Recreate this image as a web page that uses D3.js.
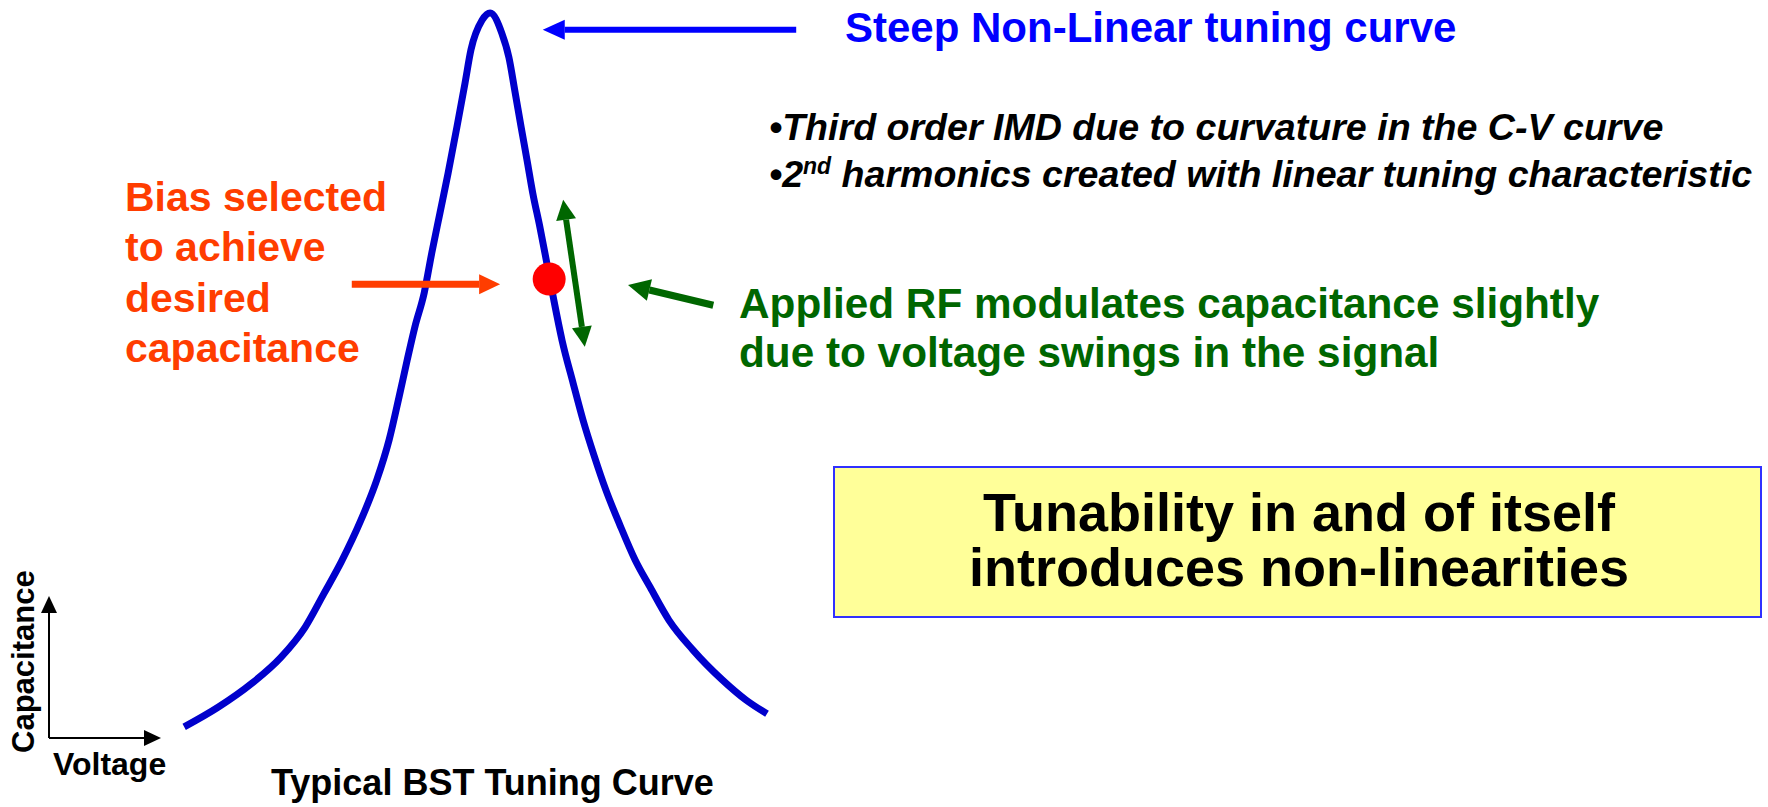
<!DOCTYPE html>
<html>
<head>
<meta charset="utf-8">
<script src="https://cdn.jsdelivr.net/npm/d3@7"></script>
<style>
  html, body { margin: 0; padding: 0; background: #fff; }
  svg text { font-family: "Liberation Sans", Arial, sans-serif; font-weight: bold; }
</style>
</head>
<body>
<div id="chart"></div>
<script>
// tuning curve (voltage in arbitrary units, capacitance in arbitrary units)
const voltage = [-4.98, -4.40, -3.82, -3.32, -2.91, -2.59, -2.29, -1.95, -1.68, -1.47, -1.30, -1.16,
  -1.03, -0.87, -0.74, -0.60, -0.46, -0.31, -0.17, -0.07, 0.12, 0.26,
  0.46, 0.58, 0.68, 0.79, 0.89, 0.99, 1.11, 1.23, 1.35, 1.49, 1.68, 1.85, 2.04, 2.24, 2.48, 2.74,
  3.00, 3.32, 3.73, 4.23, 4.64, 5.00];
const capacitance = [0.18, 0.45, 0.78, 1.14, 1.55, 2.01, 2.45, 3.03, 3.58, 4.13, 4.72, 5.23,
  5.68, 6.15, 6.70, 7.25, 7.80, 8.43, 9.04, 9.49, 9.90, 10.0,
  9.72, 9.39, 8.94, 8.43, 7.98, 7.52, 7.06, 6.56, 6.05, 5.50, 4.91, 4.40, 3.91, 3.44, 2.96, 2.48,
  2.10, 1.65, 1.24, 0.83, 0.55, 0.36];

// operating (bias) point
const biasPoint = { v: 1.27, c: 6.34 };

// annotation arrows, in data units
const peakArrow = { from: [5.50, 9.77], to: [1.16, 9.77] };
const biasArrow = { from: [-2.11, 6.27], to: [0.43, 6.27] };
const swingArrow = { from: [1.51, 7.43], to: [1.88, 5.41] };
const rfArrow = { from: [4.08, 5.98], to: [2.62, 6.26] };

const titleText = "Steep Non-Linear tuning curve";
const bulletLines = ["\u2022Third order IMD due to curvature in the C-V curve",
  " harmonics created with linear tuning characteristic"];
const biasLines = ["Bias selected", "to achieve", "desired", "capacitance"];
const rfLines = ["Applied RF modulates capacitance slightly", "due to voltage swings in the signal"];
const boxLines = ["Tunability in and of itself", "introduces non-linearities"];
const axisLabels = { x: "Voltage", y: "Capacitance" };
const caption = "Typical BST Tuning Curve";

const width = 1768, height = 807;
const colors = {
  curve: "#0000cc",
  blue: "#0000ff",
  orange: "#ff3d00",
  green: "#006600",
  dot: "#ff0000",
  box: "#ffff99",
  boxBorder: "#3030ff"
};

const svg = d3.select("#chart").append("svg")
  .attr("width", width)
  .attr("height", height);

const x = d3.scaleLinear().domain([-5, 5]).range([183, 767]);
const y = d3.scaleLinear().domain([0, 10]).range([740, 13]);

// draw an arrow (shaft + filled triangular head), optionally double headed
function arrow(p1, p2, color, sw, hl, hw, both) {
  const x1 = x(p1[0]), y1 = y(p1[1]), x2 = x(p2[0]), y2 = y(p2[1]);
  const len = Math.hypot(x2 - x1, y2 - y1);
  const ux = (x2 - x1) / len, uy = (y2 - y1) / len;
  const g = svg.append("g");
  const sx = both ? x1 + ux * hl : x1, sy = both ? y1 + uy * hl : y1;
  g.append("line")
    .attr("x1", sx).attr("y1", sy)
    .attr("x2", x2 - ux * hl).attr("y2", y2 - uy * hl)
    .attr("stroke", color).attr("stroke-width", sw);
  function head(tx, ty, dx, dy) {
    const bx = tx - dx * hl, by = ty - dy * hl;
    g.append("polygon")
      .attr("points", [[tx, ty], [bx - dy * hw, by + dx * hw], [bx + dy * hw, by - dx * hw]]
        .map(p => p.join(",")).join(" "))
      .attr("fill", color);
  }
  head(x2, y2, ux, uy);
  if (both) head(x1, y1, -ux, -uy);
}

// tuning curve
const pts = voltage.map((v, i) => [v, capacitance[i]]);
svg.append("path")
  .datum(pts)
  .attr("fill", "none")
  .attr("stroke", colors.curve)
  .attr("stroke-width", 7)
  .attr("d", d3.line().x(d => x(d[0])).y(d => y(d[1])).curve(d3.curveMonotoneX));

// arrows
arrow(peakArrow.from, peakArrow.to, colors.blue, 6, 22, 10, false);
arrow(biasArrow.from, biasArrow.to, colors.orange, 7, 21, 10, false);
arrow(swingArrow.from, swingArrow.to, colors.green, 6, 20, 10, true);
arrow(rfArrow.from, rfArrow.to, colors.green, 7, 22, 11, false);

// bias point
svg.append("circle")
  .attr("cx", x(biasPoint.v))
  .attr("cy", y(biasPoint.c))
  .attr("r", 16.5)
  .attr("fill", colors.dot);

// title
svg.append("text")
  .attr("x", 845).attr("y", 42)
  .attr("font-size", 42)
  .attr("fill", colors.blue)
  .text(titleText);

// bullets
svg.append("text")
  .attr("x", 769).attr("y", 140)
  .attr("font-size", 37.6).attr("font-style", "italic")
  .text(bulletLines[0]);
const b2 = svg.append("text")
  .attr("x", 769).attr("y", 187)
  .attr("font-size", 37.6).attr("font-style", "italic");
b2.append("tspan").text("\u20222");
b2.append("tspan").attr("font-size", 23).attr("dy", -13).text("nd");
b2.append("tspan").attr("dy", 13).text(bulletLines[1]);

// orange label
svg.append("text")
  .attr("font-size", 41)
  .attr("fill", colors.orange)
  .selectAll("tspan")
  .data(biasLines)
  .join("tspan")
  .attr("x", 125)
  .attr("y", (d, i) => [211, 261, 312, 362][i])
  .text(d => d);

// green label
svg.append("text")
  .attr("font-size", 42.3)
  .attr("fill", colors.green)
  .selectAll("tspan")
  .data(rfLines)
  .join("tspan")
  .attr("x", 739)
  .attr("y", (d, i) => [318, 367][i])
  .text(d => d);

// yellow callout box
svg.append("rect")
  .attr("x", 834).attr("y", 467)
  .attr("width", 927).attr("height", 150)
  .attr("fill", colors.box)
  .attr("stroke", colors.boxBorder)
  .attr("stroke-width", 2);
svg.append("text")
  .attr("font-size", 54)
  .attr("text-anchor", "middle")
  .selectAll("tspan")
  .data(boxLines)
  .join("tspan")
  .attr("x", 1299)
  .attr("y", (d, i) => [531, 586][i])
  .text(d => d);

// small axis key
const key = svg.append("g");
const kx = 49, ky = 738;
key.append("line").attr("x1", kx).attr("y1", ky).attr("x2", kx).attr("y2", 612)
  .attr("stroke", "#000").attr("stroke-width", 2);
key.append("polygon").attr("points", `${kx},596 ${kx - 8},613 ${kx + 8},613`).attr("fill", "#000");
key.append("line").attr("x1", kx).attr("y1", ky).attr("x2", 145).attr("y2", ky)
  .attr("stroke", "#000").attr("stroke-width", 2);
key.append("polygon").attr("points", `161,${ky} 144,${ky - 8} 144,${ky + 8}`).attr("fill", "#000");
key.append("text")
  .attr("transform", "translate(34,753) rotate(-90)")
  .attr("font-size", 31)
  .text(axisLabels.y);
key.append("text")
  .attr("x", 53).attr("y", 775)
  .attr("font-size", 32)
  .text(axisLabels.x);

// caption
svg.append("text")
  .attr("x", 271).attr("y", 795)
  .attr("font-size", 36)
  .text(caption);
</script>
</body>
</html>
